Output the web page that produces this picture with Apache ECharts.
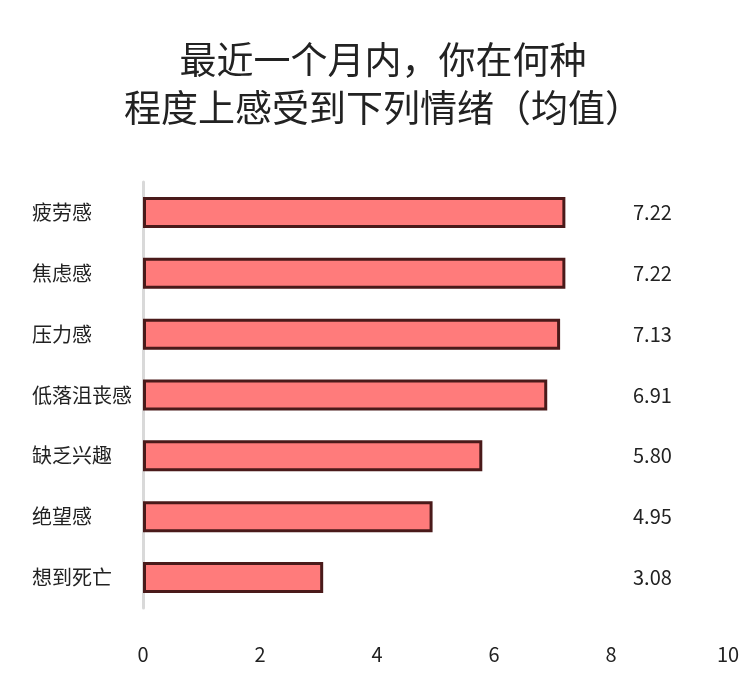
<!DOCTYPE html>
<html><head><meta charset="utf-8">
<script src="https://cdn.jsdelivr.net/npm/echarts@6/dist/echarts.min.js"></script>
<style>html,body{margin:0;padding:0;background:#fff}#c{width:748px;height:686px}</style>
</head><body><div id="c"></div>
<script>
const titleText = '最近一个月内，你在何种\n程度上感受到下列情绪（均值）';
const categories = ['疲劳感','焦虑感','压力感','低落沮丧感','缺乏兴趣','绝望感','想到死亡'];
const values = [7.22, 7.22, 7.13, 6.91, 5.80, 4.95, 3.08];
const xTicks = [0, 2, 4, 6, 8, 10];

const font = '"Noto Sans CJK SC", "Noto Sans", sans-serif';
const chart = echarts.init(document.getElementById('c'));
chart.setOption({
  backgroundColor: '#fff',
  animation: false,
  title: {
    text: titleText,
    left: 378, top: 31, textAlign: 'center',
    textStyle: { fontFamily: font, fontSize: 37, fontWeight: 'normal', color: '#222', lineHeight: 48 }
  },
  grid: { left: 143, right: 20, top: 182, height: 426 },
  xAxis: {
    type: 'value', min: xTicks[0], max: xTicks[xTicks.length-1], interval: 2,
    axisLine: { show: false }, axisTick: { show: false }, splitLine: { show: false },
    axisLabel: { margin: 36, fontFamily: font, fontSize: 20, color: '#222' }
  },
  yAxis: [{
    type: 'category', data: categories, inverse: true,
    axisLine: { show: true, lineStyle: { color: '#d9d9d9', width: 3 } },
    axisTick: { show: false },
    axisLabel: { align: 'left', margin: 111, fontFamily: font, fontSize: 20, color: '#222' }
  }, {
    type: 'category', data: values.map(v => v.toFixed(2)), inverse: true, position: 'right',
    axisLine: { show: false }, axisTick: { show: false },
    axisLabel: { align: 'left', margin: -95, fontFamily: font, fontSize: 20, color: '#222' }
  }],
  series: [{
    type: 'bar', data: values, barWidth: 31,
    itemStyle: { color: '#ff7b7b', borderColor: '#4a1a1a', borderWidth: 3 }
  }]
});
</script></body></html>
